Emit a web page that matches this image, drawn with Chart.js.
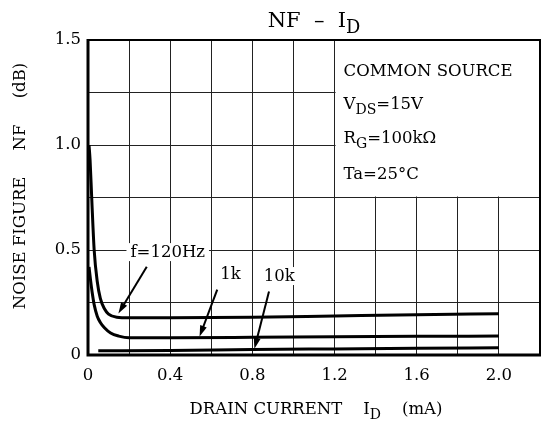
<!DOCTYPE html>
<html><head><meta charset="utf-8">
<script src="https://cdn.jsdelivr.net/npm/chart.js@4/dist/chart.umd.min.js"></script>
<style>html,body{margin:0;padding:0;background:#fff}canvas{display:block}</style>
</head><body>
<canvas id="c" width="551" height="425" style="width:551px;height:425px"></canvas>
<script>
// ---- data ----
const f120X = [0.005, 0.01, 0.018, 0.03, 0.045, 0.06, 0.08, 0.1, 0.14, 0.2, 0.4, 0.8, 1.2, 1.6, 2.0];
const f120Y = [1.0, 0.93, 0.75, 0.5, 0.35, 0.27, 0.22, 0.195, 0.18, 0.177, 0.177, 0.18, 0.186, 0.192, 0.197];
const f1kX = [0.005, 0.012, 0.02, 0.03, 0.045, 0.06, 0.08, 0.11, 0.15, 0.2, 0.4, 0.8, 1.2, 1.6, 2.0];
const f1kY = [0.42, 0.36, 0.3, 0.24, 0.185, 0.155, 0.13, 0.105, 0.09, 0.082, 0.082, 0.084, 0.087, 0.089, 0.09];
const f10kX = [0.05, 0.4, 0.8, 1.2, 1.6, 2.0];
const f10kY = [0.02, 0.022, 0.026, 0.029, 0.032, 0.034];
const xTickLabels = ['0', '0.4', '0.8', '1.2', '1.6', '2.0'];
const yTickLabels = ['0', '0.5', '1.0', '1.5'];
const curveLabels = ['f=120Hz', '1k', '10k'];
const conditionLines = [
  [{t: 'COMMON SOURCE'}],
  [{t: 'V'}, {t: 'DS', sub: true}, {t: '=15V'}],
  [{t: 'R'}, {t: 'G', sub: true}, {t: '=100k\u03A9'}],
  [{t: 'Ta=25\u00B0C'}]
];

const FONT = '"DejaVu Serif", "Liberation Serif", serif';
const pts = (xs, ys) => xs.map((x, i) => ({x, y: ys[i]}));

function richWidth(ctx, parts, size) {
  let w = 0;
  for (const p of parts) {
    ctx.font = (p.sub ? size * 0.85 : size) + 'px ' + FONT;
    w += ctx.measureText(p.t).width;
  }
  return w;
}
function drawRich(ctx, parts, x, y, size, align) {
  const w = richWidth(ctx, parts, size);
  let cx = align === 'center' ? x - w / 2 : x;
  ctx.textAlign = 'left';
  ctx.textBaseline = 'alphabetic';
  ctx.fillStyle = '#000';
  for (const p of parts) {
    ctx.font = (p.sub ? size * 0.85 : size) + 'px ' + FONT;
    ctx.fillText(p.t, cx, p.sub ? y + size * 0.3 : y);
    cx += ctx.measureText(p.t).width;
  }
}
function arrow(ctx, x1, y1, x2, y2) {
  const a = Math.atan2(y2 - y1, x2 - x1);
  const L = 11, W = 3.5;
  ctx.strokeStyle = '#000'; ctx.fillStyle = '#000'; ctx.lineWidth = 2;
  ctx.beginPath(); ctx.moveTo(x1, y1);
  ctx.lineTo(x2 - L * Math.cos(a) * 0.8, y2 - L * Math.sin(a) * 0.8); ctx.stroke();
  ctx.beginPath(); ctx.moveTo(x2, y2);
  ctx.lineTo(x2 - L * Math.cos(a) + W * Math.sin(a), y2 - L * Math.sin(a) - W * Math.cos(a));
  ctx.lineTo(x2 - L * Math.cos(a) - W * Math.sin(a), y2 - L * Math.sin(a) + W * Math.cos(a));
  ctx.closePath(); ctx.fill();
}

const decor = {
  id: 'decor',
  beforeDatasetsDraw(chart) {
    const {ctx, chartArea: ca, scales: {x, y}} = chart;
    ctx.save();
    // condition box (gridlines hidden inside)
    const bx = x.getPixelForValue(1.2), by = y.getPixelForValue(0.75);
    ctx.fillStyle = '#fff';
    ctx.fillRect(bx + 1, ca.top, ca.right - bx - 1, by - ca.top - 1);
    const tx = bx + 9;
    const baseVals = [1.33, 1.17, 1.01, 0.84];
    conditionLines.forEach((ln, i) => drawRich(ctx, ln, tx, y.getPixelForValue(baseVals[i]), 16.5, 'left'));
    // curve labels
    ctx.font = '16.5px ' + FONT;
    const lab = [[0.388, 0.49], [0.693, 0.385], [0.931, 0.376]];
    curveLabels.forEach((t, i) => {
      const px = x.getPixelForValue(lab[i][0]), py = y.getPixelForValue(lab[i][1]);
      const w = ctx.measureText(t).width;
      ctx.fillStyle = '#fff';
      ctx.fillRect(px - w / 2 - 4, py - 9, w + 8, 18);
      ctx.fillStyle = '#000'; ctx.textAlign = 'center'; ctx.textBaseline = 'middle';
      ctx.fillText(t, px, py + 1);
    });
    // arrows
    const arr = [[0.286, 0.42, 0.148, 0.198], [0.629, 0.311, 0.543, 0.088], [0.881, 0.302, 0.81, 0.03]];
    arr.forEach(a => arrow(ctx, x.getPixelForValue(a[0]), y.getPixelForValue(a[1]), x.getPixelForValue(a[2]), y.getPixelForValue(a[3])));
    ctx.restore();
  },
  afterDraw(chart) {
    const {ctx, chartArea: ca} = chart;
    ctx.save();
    ctx.strokeStyle = '#000';
    ctx.lineWidth = 2;
    ctx.beginPath(); ctx.moveTo(ca.left, ca.top); ctx.lineTo(ca.right, ca.top); ctx.lineTo(ca.right, ca.bottom); ctx.stroke();
    ctx.lineWidth = 3;
    ctx.beginPath(); ctx.moveTo(ca.left, ca.top - 1); ctx.lineTo(ca.left, ca.bottom); ctx.lineTo(ca.right + 1, ca.bottom); ctx.stroke();
    // title
    drawRich(ctx, [{t: 'NF  \u2013  I'}, {t: 'D', sub: true}], (ca.left + ca.right) / 2 + 0, 27, 21, 'center');
    // x-axis title
    drawRich(ctx, [{t: 'DRAIN CURRENT    I'}, {t: 'D', sub: true}, {t: '    (mA)'}], (ca.left + ca.right) / 2 + 2, 414, 16.5, 'center');
    // y-axis title
    ctx.translate(25, 186);
    ctx.rotate(-Math.PI / 2);
    drawRich(ctx, [{t: 'NOISE FIGURE     NF     (dB)'}], 0, 0, 16.5, 'center');
    ctx.restore();
  }
};

const lineDs = (label, data) => ({
  label, data, borderColor: '#000', borderWidth: 3, pointRadius: 0,
  fill: false, cubicInterpolationMode: 'monotone'
});

new Chart(document.getElementById('c'), {
  type: 'line',
  data: {
    datasets: [
      lineDs(curveLabels[0], pts(f120X, f120Y)),
      lineDs(curveLabels[1], pts(f1kX, f1kY)),
      lineDs(curveLabels[2], pts(f10kX, f10kY))
    ]
  },
  options: {
    responsive: false,
    devicePixelRatio: 1,
    animation: false,
    layout: {padding: {top: 40, right: 2, left: 0, bottom: 0}},
    plugins: {legend: {display: false}, tooltip: {enabled: false}, title: {display: false}},
    scales: {
      x: {
        type: 'linear', min: 0, max: 2.2,
        afterFit: s => { s.height = 70; },
        border: {display: false},
        grid: {color: '#222', lineWidth: 1, drawTicks: false},
        ticks: {
          stepSize: 0.2, padding: 11, color: '#000', maxRotation: 0, autoSkip: false,
          font: {family: FONT, size: 16.5},
          callback: v => { const k = Math.round(v * 10); return (k % 4 === 0 && k / 4 < xTickLabels.length) ? xTickLabels[k / 4] : ''; }
        }
      },
      y: {
        type: 'linear', min: 0, max: 1.5,
        afterFit: s => { s.width = 88; },
        border: {display: false},
        grid: {color: '#222', lineWidth: 1, drawTicks: false},
        ticks: {
          stepSize: 0.25, padding: 7, color: '#000', autoSkip: false,
          font: {family: FONT, size: 16.5},
          callback: v => { const k = Math.round(v * 100); return k % 50 === 0 ? yTickLabels[k / 50] : ''; }
        }
      }
    }
  },
  plugins: [decor]
});
</script>
</body></html>
